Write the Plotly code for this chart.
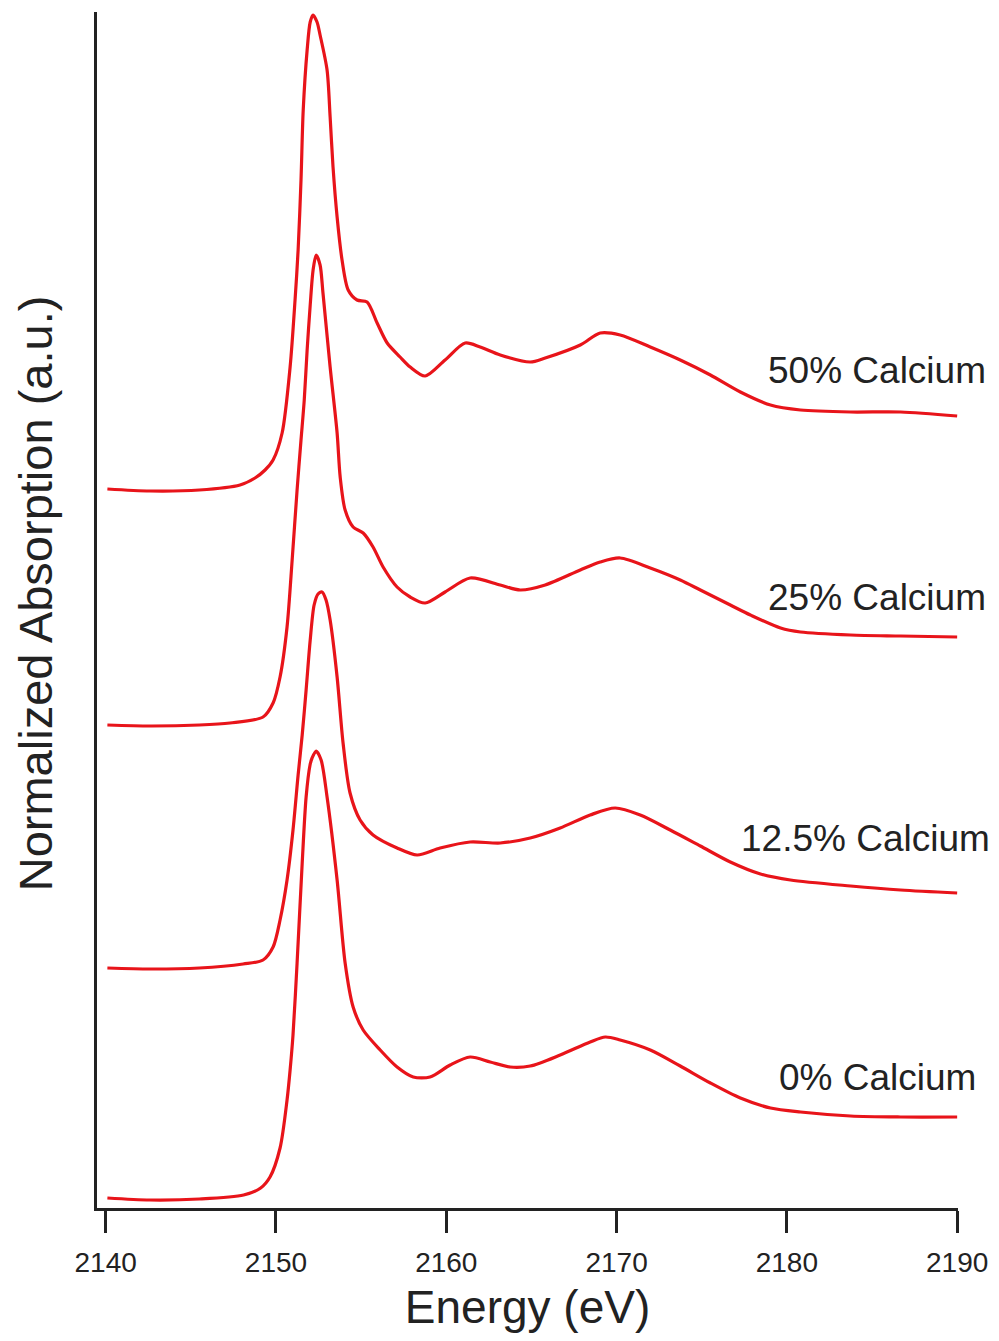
import plotly.graph_objects as go

# Energies (eV) and normalized absorption (a.u., offset stacked)
energy_0 = [2140.1, 2142.6, 2145.5, 2148.1, 2149.1, 2149.65, 2150.24, 2150.65, 2150.83, 2151.0,
            2151.24, 2151.54, 2151.77, 2152.0, 2152.12, 2152.36, 2152.65, 2153.0, 2153.59, 2154.06,
            2154.53, 2155.12, 2156.12, 2157.11, 2158.06, 2159.05, 2160.23, 2161.4, 2162.58, 2163.75,
            2164.93, 2166.69, 2168.45, 2169.34, 2170.21, 2171.98, 2173.74, 2175.51, 2177.27, 2179.04,
            2180.8, 2183.74, 2186.68, 2190.0]
absorb_0 = [0.10, 0.08, 0.09, 0.13, 0.20, 0.31, 0.60, 1.08, 1.38, 1.73,
            2.45, 3.45, 4.11, 4.43, 4.50, 4.57, 4.48, 4.11, 3.28, 2.45,
            2.01, 1.78, 1.58, 1.41, 1.31, 1.31, 1.43, 1.51, 1.46, 1.41,
            1.42, 1.53, 1.66, 1.71, 1.68, 1.58, 1.42, 1.25, 1.10, 1.00,
            0.96, 0.92, 0.91, 0.91]

energy_12 = [2140.1, 2142.6, 2145.5, 2148.07, 2149.24, 2149.83, 2150.24, 2150.65, 2151.0, 2151.3,
             2151.54, 2151.77, 2152.01, 2152.24, 2152.47, 2152.7, 2152.94, 2153.18, 2153.59, 2153.94,
             2154.35, 2154.94, 2155.7, 2157.11, 2158.29, 2159.64, 2161.4, 2163.17, 2164.93, 2166.69,
             2168.45, 2169.92, 2171.39, 2173.15, 2174.92, 2176.68, 2178.45, 2180.21, 2183.74, 2186.68,
             2190.0]
absorb_12 = [2.40, 2.39, 2.40, 2.44, 2.48, 2.61, 2.88, 3.28, 3.78, 4.33,
             4.73, 5.18, 5.68, 6.03, 6.14, 6.16, 6.08, 5.88, 5.31, 4.65,
             4.15, 3.88, 3.73, 3.60, 3.53, 3.60, 3.66, 3.65, 3.70, 3.80,
             3.93, 4.00, 3.93, 3.78, 3.62, 3.46, 3.34, 3.28, 3.22, 3.18,
             3.15]

energy_25 = [2140.1, 2142.6, 2145.5, 2147.3, 2149.24, 2149.83, 2150.24, 2150.65, 2150.95, 2151.24,
             2151.47, 2151.66, 2151.83, 2152.01, 2152.18, 2152.36, 2152.59, 2152.76, 2153.18, 2153.59,
             2153.77, 2154.06, 2154.53, 2155.12, 2155.7, 2156.29, 2157.11, 2157.88, 2158.76, 2159.93,
             2161.4, 2163.17, 2164.34, 2165.81, 2167.87, 2169.04, 2170.21, 2171.98, 2173.74, 2174.92,
             2176.68, 2177.86, 2179.63, 2180.8, 2183.74, 2186.68, 2190.0]
absorb_25 = [4.83, 4.82, 4.83, 4.85, 4.91, 5.05, 5.31, 5.81, 6.48, 7.18,
             7.68, 8.08, 8.58, 9.03, 9.38, 9.53, 9.43, 9.15, 8.41, 7.75,
             7.31, 6.98, 6.81, 6.75, 6.61, 6.41, 6.21, 6.11, 6.05, 6.16,
             6.30, 6.23, 6.18, 6.23, 6.38, 6.46, 6.50, 6.40, 6.28, 6.18,
             6.03, 5.93, 5.80, 5.76, 5.73, 5.72, 5.71]

energy_50 = [2140.1, 2142.6, 2145.5, 2147.89, 2148.77, 2149.36, 2149.83, 2150.36, 2150.83, 2151.12,
             2151.3, 2151.47, 2151.6, 2151.83, 2152.01, 2152.18, 2152.41, 2152.59, 2153.0, 2153.18,
             2153.35, 2153.59, 2153.88, 2154.24, 2154.76, 2155.35, 2155.94, 2156.53, 2157.29, 2157.88,
             2158.76, 2159.93, 2161.11, 2161.99, 2163.17, 2164.93, 2165.81, 2167.87, 2169.04, 2170.21,
             2171.98, 2173.74, 2175.51, 2177.27, 2179.04, 2180.8, 2183.74, 2186.68, 2190.0]
absorb_50 = [7.19, 7.17, 7.18, 7.23, 7.30, 7.38, 7.48, 7.75, 8.41, 9.08,
             9.58, 10.28, 10.98, 11.58, 11.86, 11.93, 11.86, 11.73, 11.38, 10.91,
             10.41, 9.91, 9.48, 9.18, 9.08, 9.06, 8.85, 8.65, 8.51, 8.41,
             8.32, 8.48, 8.65, 8.61, 8.53, 8.46, 8.50, 8.63, 8.75, 8.73,
             8.61, 8.48, 8.33, 8.16, 8.03, 7.98, 7.96, 7.96, 7.92]

series_labels = ["0% Calcium", "12.5% Calcium", "25% Calcium", "50% Calcium"]
label_energy = [2185.3, 2184.6, 2185.3, 2185.3]
label_level = [1.31, 3.70, 6.11, 8.38]

x_ticks = [2140, 2150, 2160, 2170, 2180, 2190]

RED = "rgb(232,20,26)"
INK = "#222222"
FONT = "Liberation Sans, Arial, Helvetica, sans-serif"

fig = go.Figure()
for xs, ys, name in [(energy_0, absorb_0, series_labels[0]),
                     (energy_12, absorb_12, series_labels[1]),
                     (energy_25, absorb_25, series_labels[2]),
                     (energy_50, absorb_50, series_labels[3])]:
    fig.add_trace(go.Scatter(x=xs, y=ys, mode="lines", name=name,
                             line=dict(color=RED, width=3.2, shape="spline", smoothing=0.8),
                             showlegend=False))

for lab, ex, lv in zip(series_labels, label_energy, label_level):
    fig.add_annotation(x=ex, y=lv, xref="x", yref="y", text=lab, showarrow=False,
                       font=dict(family=FONT, size=37, color=INK), xanchor="center", yanchor="middle")

fig.add_annotation(x=-0.072, y=0.514, xref="paper", yref="paper", text="Normalized Absorption (a.u.)",
                   textangle=-90, showarrow=False, font=dict(family=FONT, size=47, color=INK),
                   xanchor="center", yanchor="middle")

fig.update_layout(
    width=999, height=1341,
    margin=dict(l=97, r=41, t=12, b=133),
    paper_bgcolor="white", plot_bgcolor="white",
    font=dict(family=FONT, color=INK),
)
fig.update_xaxes(range=[2139.49, 2190.05], showline=True, linecolor=INK, linewidth=2.5,
                 ticks="outside", ticklen=22, tickwidth=2.5, tickcolor=INK,
                 tickvals=x_ticks, ticktext=[str(t) for t in x_ticks],
                 tickfont=dict(family=FONT, size=28, color=INK), ticklabelstandoff=6,
                 showgrid=False, zeroline=False,
                 title=dict(text="Energy (eV)", font=dict(family=FONT, size=46, color=INK), standoff=14))
fig.update_yaxes(range=[0, 11.96], showline=True, linecolor=INK, linewidth=2.5,
                 showticklabels=False, ticks="", showgrid=False, zeroline=False)

fig.write_html("out.html")
